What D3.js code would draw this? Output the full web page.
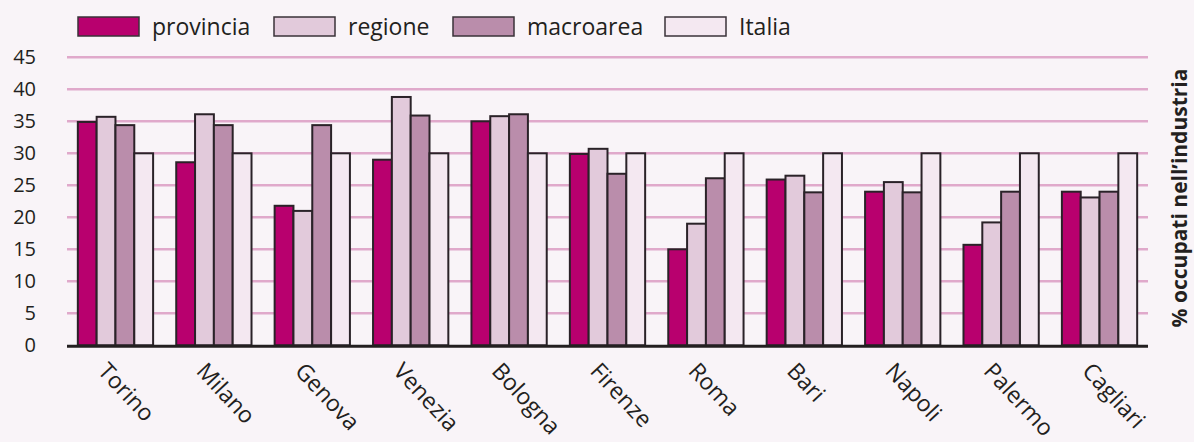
<!DOCTYPE html>
<html>
<head>
<meta charset="utf-8">
<script src="https://cdn.jsdelivr.net/npm/d3@7"></script>
<style>
  body { margin: 0; background: #f9f4f8; }
  svg { display: block; font-family: "Open Sans", sans-serif; }
</style>
</head>
<body>
<div id="chart"></div>
<script>
const cities = ["Torino", "Milano", "Genova", "Venezia", "Bologna", "Firenze", "Roma", "Bari", "Napoli", "Palermo", "Cagliari"];
const seriesNames = ["provincia", "regione", "macroarea", "Italia"];
const provincia = [34.9, 28.6, 21.8, 29.0, 35.0, 29.9, 15.0, 25.9, 24.0, 15.7, 24.0];
const regione = [35.7, 36.1, 21.0, 38.8, 35.8, 30.7, 19.0, 26.5, 25.5, 19.2, 23.1];
const macroarea = [34.4, 34.4, 34.4, 35.9, 36.1, 26.8, 26.1, 23.9, 23.9, 24.0, 24.0];
const italia = [30, 30, 30, 30, 30, 30, 30, 30, 30, 30, 30];
const yTicks = [0, 5, 10, 15, 20, 25, 30, 35, 40, 45];

const values = [provincia, regione, macroarea, italia];
const colors = ["#b8006e", "#e2cadb", "#ba8dab", "#f4e8f1"];

const width = 1194, height = 442;
const svg = d3.select("#chart").append("svg")
  .attr("width", width)
  .attr("height", height);

svg.append("rect").attr("width", width).attr("height", height).attr("fill", "#f9f4f8");

const x0 = d3.scaleBand().domain(cities).range([67, 1148])
  .paddingInner(0.235).paddingOuter(0.11);
const x1 = d3.scaleBand().domain(seriesNames).range([0, x0.bandwidth()]);
const y = d3.scaleLinear().domain([0, 45]).range([345.3, 57.3]);

// grid
svg.append("g")
  .selectAll("line")
  .data(yTicks.filter(d => d > 0))
  .join("line")
  .attr("x1", 67).attr("x2", 1148)
  .attr("y1", d => y(d)).attr("y2", d => y(d))
  .attr("stroke", "#e0a9cb")
  .attr("stroke-width", 2.5);

// y labels
svg.append("g")
  .selectAll("text")
  .data(yTicks)
  .join("text")
  .attr("x", 36)
  .attr("y", d => y(d))
  .attr("dy", "0.35em")
  .attr("text-anchor", "end")
  .attr("fill", "#231f20")
  .style("font-size", "20px")
  .text(d => d);

// bars
const groups = svg.append("g")
  .selectAll("g")
  .data(cities)
  .join("g")
  .attr("transform", d => `translate(${x0(d)},0)`);

groups.selectAll("rect")
  .data((c, i) => seriesNames.map((s, j) => ({ s, j, v: values[j][i] })))
  .join("rect")
  .attr("x", d => x1(d.s))
  .attr("y", d => y(d.v))
  .attr("width", x1.bandwidth())
  .attr("height", d => y(0) - y(d.v))
  .attr("fill", d => colors[d.j])
  .attr("stroke", "#2a2228")
  .attr("stroke-width", 2);

// baseline
svg.append("line")
  .attr("x1", 67).attr("x2", 1148)
  .attr("y1", y(0) + 1).attr("y2", y(0) + 1)
  .attr("stroke", "#231f20")
  .attr("stroke-width", 3);

// x labels
svg.append("g")
  .selectAll("text")
  .data(cities)
  .join("text")
  .attr("transform", d => `translate(${x0(d) + x0.bandwidth() / 2 - 6},${y(0) + 15}) rotate(47)`)
  .attr("dy", "0.75em")
  .attr("fill", "#231f20")
  .style("font-size", "23px")
  .text(d => d);

// legend
const legendX = [78, 274, 453, 665];
const legend = svg.append("g")
  .selectAll("g")
  .data(seriesNames)
  .join("g")
  .attr("transform", (d, i) => `translate(${legendX[i]},17)`);

legend.append("rect")
  .attr("width", 61).attr("height", 19)
  .attr("fill", (d, i) => colors[i])
  .attr("stroke", "#3a3238")
  .attr("stroke-width", 1.5);

legend.append("text")
  .attr("x", 74).attr("y", 10)
  .attr("dy", "0.35em")
  .attr("fill", "#231f20")
  .style("font-size", "23px")
  .text(d => d);

// right title
svg.append("text")
  .attr("transform", "translate(1180,198) rotate(-90)")
  .attr("text-anchor", "middle")
  .attr("dy", "0.35em")
  .attr("fill", "#231f20")
  .style("font-size", "21px")
  .style("font-weight", "bold")
  .text("% occupati nell\u2019industria");
</script>
</body>
</html>
